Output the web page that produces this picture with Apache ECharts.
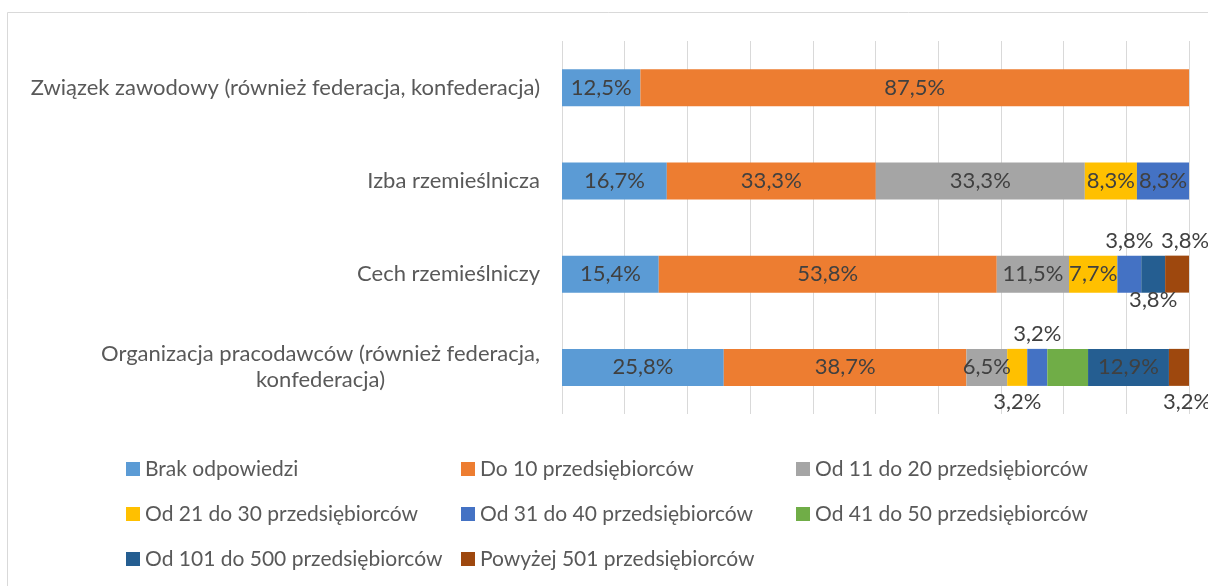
<!DOCTYPE html>
<html><head><meta charset="utf-8">
<script src="https://cdn.jsdelivr.net/npm/echarts@6/dist/echarts.min.js"></script>
<style>html,body{margin:0;padding:0;background:#fff}#c{width:1208px;height:586px}</style>
</head><body><div id="c"></div>
<script>
const categories = [
  'Związek zawodowy (również federacja, konfederacja)',
  'Izba rzemieślnicza',
  'Cech rzemieślniczy',
  'Organizacja pracodawców (również federacja,\nkonfederacja)'
];
const seriesNames = [
  'Brak odpowiedzi', 'Do 10 przedsiębiorców', 'Od 11 do 20 przedsiębiorców',
  'Od 21 do 30 przedsiębiorców', 'Od 31 do 40 przedsiębiorców', 'Od 41 do 50 przedsiębiorców',
  'Od 101 do 500 przedsiębiorców', 'Powyżej 501 przedsiębiorców'
];
const brak   = [12.5, 16.7, 15.4, 25.8];
const do10   = [87.5, 33.3, 53.8, 38.7];
const od11   = [0, 33.3, 11.5, 6.5];
const od21   = [0, 8.3, 7.7, 3.2];
const od31   = [0, 8.3, 3.8, 3.2];
const od41   = [0, 0, 0, 6.5];
const od101  = [0, 0, 3.8, 12.9];
const pow501 = [0, 0, 3.8, 3.2];
const values = [brak, do10, od11, od21, od31, od41, od101, pow501];
const colors = ['#5B9BD5','#ED7D31','#A5A5A5','#FFC000','#4472C4','#70AD47','#255E91','#9E480E'];

// label placement overrides: key "series,category"
const labelStyle = {
  '4,2': {position: 'top', distance: 4},
  '6,2': {position: 'bottom', offset: [0, -9]},
  '7,2': {position: 'top', distance: 4, offset: [8, 0]},
  '3,3': {position: 'bottom', distance: 5},
  '4,3': {position: 'top', distance: 4},
  '5,3': {show: false},
  '7,3': {position: 'bottom', distance: 5, offset: [8, 0]}
};

const totals = categories.map((c, i) => values.reduce((s, a) => s + a[i], 0));
const FONT = 'Lato';
const FS = 22;
const fmt = v => v.toFixed(1).replace('.', ',') + '%';

const series = values.map((arr, si) => ({
  name: seriesNames[si],
  type: 'bar',
  stack: 'all',
  barWidth: 37,
  itemStyle: {color: colors[si]},
  label: {show: true, position: 'inside', color: '#404040', fontFamily: FONT, fontSize: FS,
          formatter: p => fmt(p.data.raw)},
  emphasis: {disabled: true},
  data: arr.map((v, ci) => {
    if (!v) return {value: '-', raw: 0};
    const d = {value: v / totals[ci] * 100, raw: v};
    const ls = labelStyle[si + ',' + ci];
    if (ls) d.label = ls;
    return d;
  })
}));

const chart = echarts.init(document.getElementById('c'), null, {renderer: 'canvas'});
chart.setOption({
  animation: false,
  backgroundColor: '#fff',
  graphic: [{type: 'rect', shape: {x: 7.5, y: 12.5, width: 1300, height: 700},
             style: {fill: 'none', stroke: '#D9D9D9', lineWidth: 1}, silent: true}],
  grid: {left: 562, right: 19, top: 41, height: 373, containLabel: false},
  xAxis: {type: 'value', min: 0, max: 100, interval: 10,
          axisLabel: {show: false}, axisLine: {show: false}, axisTick: {show: false},
          splitLine: {show: true, lineStyle: {color: '#D9D9D9', width: 1}}},
  yAxis: {type: 'category', data: categories, inverse: true,
          axisLine: {show: false}, axisTick: {show: false},
          axisLabel: {margin: 22, color: '#595959', fontFamily: FONT, fontSize: FS, lineHeight: 26,
                      formatter: v => v.split('\n').map(l => '{c|' + l + '}').join('\n'),
                      rich: {c: {align: 'center', color: '#595959', fontFamily: FONT, fontSize: FS, lineHeight: 26}}}},
  legend: {
    left: 121, top: 444, width: 1010, orient: 'horizontal',
    icon: 'rect', itemWidth: 14, itemHeight: 14, itemGap: 5,
    textStyle: {color: '#595959', fontFamily: FONT, fontSize: 21, width: 311, lineHeight: 40, overflow: 'none'},
    data: seriesNames
  },
  series
});
</script></body></html>
